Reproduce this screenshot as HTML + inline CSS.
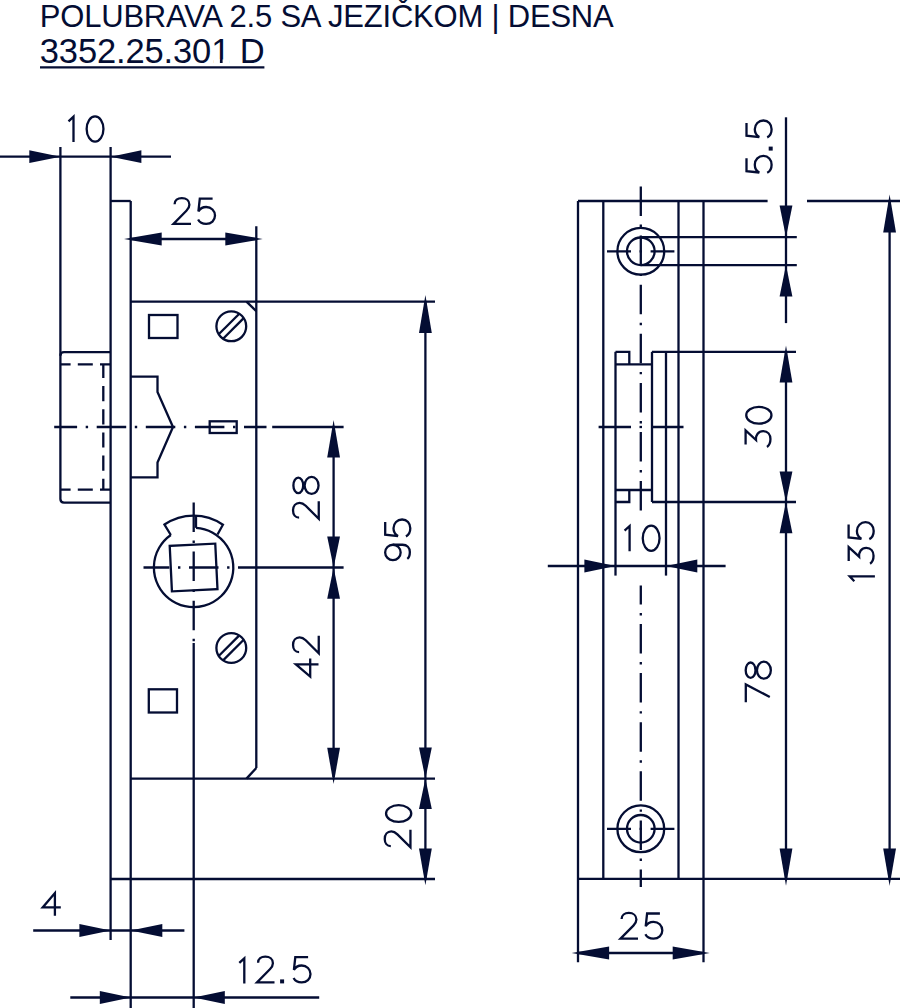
<!DOCTYPE html>
<html><head><meta charset="utf-8"><title>Polubrava 2.5</title>
<style>html,body{margin:0;padding:0;background:#fff;width:900px;height:1008px;overflow:hidden}svg{display:block}</style>
</head><body>
<svg width="900" height="1008" viewBox="0 0 900 1008">
<style>
line,path,circle,rect,ellipse{fill:none;stroke:#040d33;stroke-width:2.3;stroke-linecap:butt;stroke-linejoin:miter}
.g path,.g ellipse{stroke-width:2.3}
rect.a{fill:#040d33;stroke:none}
.a{fill:#040d33;stroke:none}
.cd{stroke-dasharray:29.5 8.6 2.4 8.6}
.hd{stroke-dasharray:15 7.2}
.hdv{stroke-dasharray:15.2 8}
text{font-family:"Liberation Sans",sans-serif;fill:#040d33}
</style>
<line x1="0" y1="156.7" x2="171" y2="156.7"/>
<polygon class="a" points="60.5,156.7 29.3,163.1 29.3,150.3"/>
<polygon class="a" points="110.7,156.7 141.4,150.3 141.4,163.1"/>
<path d="M60.4 147 V499 Q60.4 502.6 64 502.6 H110.6"/>
<path d="M110.6 352.1 H64 Q60.4 352.1 60.4 355.7"/>
<line x1="110.6" y1="147" x2="110.6" y2="940"/>
<line x1="61" y1="364.4" x2="110.6" y2="364.4" class="hd" stroke-dashoffset="5.4"/>
<line x1="61" y1="489.7" x2="110.6" y2="489.7" class="hd" stroke-dashoffset="5.4"/>
<line x1="103.3" y1="364.4" x2="103.3" y2="489.7" class="hdv" stroke-dashoffset="1.6"/>
<line x1="110.6" y1="201" x2="130.7" y2="201"/>
<line x1="130.7" y1="201" x2="130.7" y2="1008"/>
<line x1="131" y1="239" x2="255.7" y2="239"/>
<polygon class="a" points="124.0,239.0 161.7,232.6 161.7,245.4"/>
<polygon class="a" points="262.7,239.0 225.3,245.4 225.3,232.6"/>
<path d="M130.7 301.6 H435"/>
<path d="M246.5 301.6 L256.3 311.2"/>
<line x1="256.3" y1="226.3" x2="256.3" y2="768"/>
<path d="M256.3 768 L246.5 778.6"/>
<path d="M130.7 778.6 H435"/>
<path d="M110.6 879 H435"/>
<rect x="149" y="315" width="28.50" height="23.00"/>
<rect x="148.8" y="689.3" width="28.20" height="23.20"/>
<circle cx="231.3" cy="326.3" r="14.9"/>
<line x1="218.7" y1="334.3" x2="239.3" y2="313.7"/>
<line x1="223.1" y1="338.7" x2="243.7" y2="318.1"/>
<circle cx="231.3" cy="648" r="14.9"/>
<line x1="218.7" y1="656.0" x2="239.3" y2="635.4"/>
<line x1="223.1" y1="660.4" x2="243.7" y2="639.8"/>
<path d="M130.7 376.7 H157.5 V392 L173 427 L157.5 462.5 V477.4 H130.7"/>
<rect x="209.7" y="421.3" width="27.00" height="11.70"/>
<line x1="54.2" y1="427" x2="266.5" y2="427" class="cd" stroke-dashoffset="6.6"/>
<line x1="272.2" y1="427" x2="343.6" y2="427"/>
<path d="M196.00 527.87 A39.7 39.7 0 1 1 170.83 534.98"/>
<path d="M170.83 534.98 L164.47 524.55 A51.9 51.9 0 0 1 222.94 524.69 L217.5 534.5"/>
<line x1="196" y1="515.66" x2="196" y2="527.87"/>
<rect x="170.80" y="544.70" width="45.6" height="45.6" transform="rotate(-2.8 193.6 567.5)"/>
<line x1="143.5" y1="567.5" x2="238" y2="567.5" class="cd" stroke-dashoffset="3.6"/>
<line x1="238" y1="567.5" x2="343.6" y2="567.5"/>
<line x1="193.7" y1="500.7" x2="193.7" y2="643" class="cd" stroke-dashoffset="47.3"/>
<line x1="193.7" y1="643" x2="193.7" y2="1008"/>
<line x1="333.6" y1="427" x2="333.6" y2="777"/>
<polygon class="a" points="333.6,420.0 340.0,457.6 327.2,457.6"/>
<polygon class="a" points="333.6,567.6 327.2,536.4 340.0,536.4"/>
<polygon class="a" points="333.6,567.6 340.0,598.8 327.2,598.8"/>
<polygon class="a" points="333.6,784.0 327.2,747.7 340.0,747.7"/>
<line x1="425.4" y1="302" x2="425.4" y2="878.2"/>
<polygon class="a" points="425.4,295.0 431.8,333.0 419.0,333.0"/>
<polygon class="a" points="425.4,778.6 419.0,747.6 431.8,747.6"/>
<polygon class="a" points="425.4,778.6 431.8,809.0 419.0,809.0"/>
<polygon class="a" points="425.4,885.2 419.0,848.4 431.8,848.4"/>
<line x1="33.2" y1="930.5" x2="184.4" y2="930.5"/>
<polygon class="a" points="110.6,930.5 79.4,936.9 79.4,924.1"/>
<polygon class="a" points="130.7,930.5 162.3,924.1 162.3,936.9"/>
<line x1="70.3" y1="997.5" x2="319.2" y2="997.5"/>
<polygon class="a" points="130.7,997.5 99.8,1003.9 99.8,991.1"/>
<polygon class="a" points="193.7,997.5 224.8,991.1 224.8,1003.9"/>
<line x1="578" y1="201" x2="767.6" y2="201"/>
<line x1="807" y1="201" x2="900" y2="201"/>
<line x1="578" y1="878.8" x2="900" y2="878.8"/>
<line x1="578" y1="201" x2="578" y2="962.2"/>
<line x1="703.5" y1="201" x2="703.5" y2="962.2"/>
<line x1="603.3" y1="201" x2="603.3" y2="878.8"/>
<line x1="678.5" y1="201" x2="678.5" y2="878.8"/>
<line x1="615.5" y1="351.8" x2="615.5" y2="575.6"/>
<line x1="666" y1="351.8" x2="666" y2="575.6"/>
<line x1="652" y1="351.8" x2="652" y2="502"/>
<path d="M615.5 351.8 H629.3 V364.3"/>
<path d="M615.5 502 H629.3 V490"/>
<line x1="615.5" y1="364.3" x2="652" y2="364.3"/>
<line x1="615.5" y1="490" x2="652" y2="490"/>
<line x1="652" y1="351.8" x2="796" y2="351.8"/>
<line x1="652" y1="502" x2="796" y2="502"/>
<line x1="640.8" y1="237.2" x2="796.8" y2="237.2"/>
<line x1="640.8" y1="265.1" x2="796.8" y2="265.1"/>
<circle cx="640.8" cy="251.3" r="23.4"/>
<circle cx="640.8" cy="251.3" r="13.8"/>
<line x1="607" y1="251.3" x2="674.4" y2="251.3" class="cd" stroke-dashoffset="5.5"/>
<circle cx="640.8" cy="828.8" r="23.4"/>
<circle cx="640.8" cy="828.8" r="13.8"/>
<line x1="607" y1="828.8" x2="674.4" y2="828.8" class="cd" stroke-dashoffset="5.5"/>
<line x1="598.6" y1="427" x2="631" y2="427"/>
<line x1="639.5" y1="427" x2="642" y2="427"/>
<line x1="651.1" y1="427" x2="683.5" y2="427"/>
<line x1="640.8" y1="186.5" x2="640.8" y2="510.5" class="cd"/>
<line x1="640.8" y1="585.5" x2="640.8" y2="887" class="cd" stroke-dashoffset="10.6"/>
<line x1="786" y1="117.3" x2="786" y2="323.1"/>
<polygon class="a" points="786.0,237.2 779.6,205.6 792.4,205.6"/>
<polygon class="a" points="786.0,265.1 792.4,296.4 779.6,296.4"/>
<line x1="786" y1="352.5" x2="786" y2="878.7"/>
<polygon class="a" points="786.0,345.5 792.4,382.6 779.6,382.6"/>
<polygon class="a" points="786.0,502.0 779.6,471.4 792.4,471.4"/>
<polygon class="a" points="786.0,502.0 792.4,533.3 779.6,533.3"/>
<polygon class="a" points="786.0,885.7 779.6,848.6 792.4,848.6"/>
<line x1="889.6" y1="201.6" x2="889.6" y2="878.7"/>
<polygon class="a" points="889.6,194.6 896.0,232.4 883.2,232.4"/>
<polygon class="a" points="889.6,885.7 883.2,848.6 896.0,848.6"/>
<line x1="547.8" y1="566" x2="725.6" y2="566"/>
<polygon class="a" points="615.5,566.0 584.4,572.4 584.4,559.6"/>
<polygon class="a" points="666.0,566.0 697.3,559.6 697.3,572.4"/>
<line x1="578.6" y1="953" x2="702.7" y2="953"/>
<polygon class="a" points="571.6,953.0 609.1,946.6 609.1,959.4"/>
<polygon class="a" points="709.7,953.0 672.7,959.4 672.7,946.6"/>
<g class="g" transform="translate(67.2 141.9)"><path d="M1.3 -20.6 L6.3 -25.2 V0"/></g>
<g class="g" transform="translate(85.5 141.9)"><ellipse cx="9.55" cy="-12.95" rx="8.4" ry="12.6"/></g>
<g class="g" transform="translate(172 225)"><path d="M2.6 -20.8 C2.6 -24.6 5.7 -26.85 9.8 -26.85 C14.2 -26.85 17.4 -24.2 17.4 -20.3 C17.4 -17.6 16 -15.8 14.4 -14.2 L1.5 -1.15 H19"/></g>
<g class="g" transform="translate(197 225)"><path d="M15.6 -26.3 H2.8 L1.4 -13.5 C3 -16.5 6 -18 9.2 -18 C14.2 -18 18 -14.2 18 -9.4 C18 -4.5 14.2 -1.2 9.2 -1.2 C5.3 -1.2 2.4 -3 1.1 -5.6"/></g>
<g class="g" transform="translate(40.7 915.7)"><path d="M14.2 0 V-22.6 L2.0 -8.3 H20.1"/></g>
<g class="g" transform="translate(238 983.5)"><path d="M1.3 -20.6 L6.3 -25.2 V0"/></g>
<g class="g" transform="translate(255.5 983.5)"><path d="M2.6 -20.8 C2.6 -24.6 5.7 -26.85 9.8 -26.85 C14.2 -26.85 17.4 -24.2 17.4 -20.3 C17.4 -17.6 16 -15.8 14.4 -14.2 L1.5 -1.15 H19"/></g>
<g class="g" transform="translate(279.7 983.5)"><rect class="a" x="0.4" y="-4.1" width="4" height="4"/></g>
<g class="g" transform="translate(292.5 983.5)"><path d="M15.6 -26.3 H2.8 L1.4 -13.5 C3 -16.5 6 -18 9.2 -18 C14.2 -18 18 -14.2 18 -9.4 C18 -4.5 14.2 -1.2 9.2 -1.2 C5.3 -1.2 2.4 -3 1.1 -5.6"/></g>
<g class="g" transform="translate(623.3 551.2)"><path d="M1.3 -20.6 L6.3 -25.2 V0"/></g>
<g class="g" transform="translate(641.6 551.2)"><ellipse cx="9.55" cy="-12.95" rx="8.4" ry="12.6"/></g>
<g class="g" transform="translate(619 939.8)"><path d="M2.6 -20.8 C2.6 -24.6 5.7 -26.85 9.8 -26.85 C14.2 -26.85 17.4 -24.2 17.4 -20.3 C17.4 -17.6 16 -15.8 14.4 -14.2 L1.5 -1.15 H19"/></g>
<g class="g" transform="translate(644.3 939.8)"><path d="M15.6 -26.3 H2.8 L1.4 -13.5 C3 -16.5 6 -18 9.2 -18 C14.2 -18 18 -14.2 18 -9.4 C18 -4.5 14.2 -1.2 9.2 -1.2 C5.3 -1.2 2.4 -3 1.1 -5.6"/></g>
<g class="g" transform="translate(319.9 520.2) rotate(-90)"><path d="M2.6 -20.8 C2.6 -24.6 5.7 -26.85 9.8 -26.85 C14.2 -26.85 17.4 -24.2 17.4 -20.3 C17.4 -17.6 16 -15.8 14.4 -14.2 L1.5 -1.15 H19"/></g>
<g class="g" transform="translate(319.9 494.8) rotate(-90)"><ellipse cx="9.4" cy="-21.6" rx="7.7" ry="4.9"/><ellipse cx="9.4" cy="-8.3" rx="8.5" ry="6.95"/></g>
<g class="g" transform="translate(318.5 678.5) rotate(-90)"><path d="M14.2 0 V-22.6 L2.0 -8.3 H20.1"/></g>
<g class="g" transform="translate(319.9 654.7) rotate(-90)"><path d="M2.6 -20.8 C2.6 -24.6 5.7 -26.85 9.8 -26.85 C14.2 -26.85 17.4 -24.2 17.4 -20.3 C17.4 -17.6 16 -15.8 14.4 -14.2 L1.5 -1.15 H19"/></g>
<g class="g" transform="translate(411.5 561.2) rotate(-90)"><ellipse cx="8.8" cy="-18.6" rx="7.65" ry="7.75"/><path d="M16.45 -18.6 V-9 C16.45 -4.5 13.5 -1.65 9.2 -1.65 C6 -1.65 3.6 -2.6 2.4 -4.2"/></g>
<g class="g" transform="translate(411.5 537.5) rotate(-90)"><path d="M15.6 -26.3 H2.8 L1.4 -13.5 C3 -16.5 6 -18 9.2 -18 C14.2 -18 18 -14.2 18 -9.4 C18 -4.5 14.2 -1.2 9.2 -1.2 C5.3 -1.2 2.4 -3 1.1 -5.6"/></g>
<g class="g" transform="translate(411.6 848.75) rotate(-90)"><path d="M2.6 -20.8 C2.6 -24.6 5.7 -26.85 9.8 -26.85 C14.2 -26.85 17.4 -24.2 17.4 -20.3 C17.4 -17.6 16 -15.8 14.4 -14.2 L1.5 -1.15 H19"/></g>
<g class="g" transform="translate(411.6 823.1) rotate(-90)"><ellipse cx="9.55" cy="-12.95" rx="8.4" ry="12.6"/></g>
<g class="g" transform="translate(772.8 173.9) rotate(-90)"><path d="M15.6 -26.3 H2.8 L1.4 -13.5 C3 -16.5 6 -18 9.2 -18 C14.2 -18 18 -14.2 18 -9.4 C18 -4.5 14.2 -1.2 9.2 -1.2 C5.3 -1.2 2.4 -3 1.1 -5.6"/></g>
<g class="g" transform="translate(772.8 151) rotate(-90)"><rect class="a" x="0.4" y="-4.1" width="4" height="4"/></g>
<g class="g" transform="translate(772.8 138.5) rotate(-90)"><path d="M15.6 -26.3 H2.8 L1.4 -13.5 C3 -16.5 6 -18 9.2 -18 C14.2 -18 18 -14.2 18 -9.4 C18 -4.5 14.2 -1.2 9.2 -1.2 C5.3 -1.2 2.4 -3 1.1 -5.6"/></g>
<g class="g" transform="translate(771.8 448.1) rotate(-90)"><path d="M3.7 -26.2 H17.7 L8.1 -15.8 C13 -16.2 16.95 -13.5 16.95 -8.6 C16.95 -4 13.5 -1.35 9 -1.35 C5.5 -1.35 2.5 -2.8 1.1 -4.8"/></g>
<g class="g" transform="translate(771.8 424.8) rotate(-90)"><ellipse cx="9.55" cy="-12.95" rx="8.4" ry="12.6"/></g>
<g class="g" transform="translate(772.2 702.2) rotate(-90)"><path d="M0 -26.4 H17.8 L5.2 -2.4"/></g>
<g class="g" transform="translate(772.2 679.6) rotate(-90)"><ellipse cx="9.4" cy="-21.6" rx="7.7" ry="4.9"/><ellipse cx="9.4" cy="-8.3" rx="8.5" ry="6.95"/></g>
<g class="g" transform="translate(874.9 582.6) rotate(-90)"><path d="M1.3 -20.6 L6.3 -25.2 V0"/></g>
<g class="g" transform="translate(874.9 564.8) rotate(-90)"><path d="M3.7 -26.2 H17.7 L8.1 -15.8 C13 -16.2 16.95 -13.5 16.95 -8.6 C16.95 -4 13.5 -1.35 9 -1.35 C5.5 -1.35 2.5 -2.8 1.1 -4.8"/></g>
<g class="g" transform="translate(874.9 540.2) rotate(-90)"><path d="M15.6 -26.3 H2.8 L1.4 -13.5 C3 -16.5 6 -18 9.2 -18 C14.2 -18 18 -14.2 18 -9.4 C18 -4.5 14.2 -1.2 9.2 -1.2 C5.3 -1.2 2.4 -3 1.1 -5.6"/></g>
<line x1="40" y1="67.4" x2="264.4" y2="67.4" stroke-width="2"/>
<text x="39.82" y="26.79" font-size="30.99" letter-spacing="-0.20">POLUBRAVA 2.5 SA JEZIČKOM | DESNA</text>
<text x="39.82" y="63.45" font-size="34.51" letter-spacing="-0.13">3352.25.301 D</text>
<rect x="213.4" y="59.5" width="6.5" height="3.6" style="fill:#fff;stroke:none"/><rect x="222.6" y="59.5" width="6.8" height="3.6" style="fill:#fff;stroke:none"/>
</svg>
</body></html>
